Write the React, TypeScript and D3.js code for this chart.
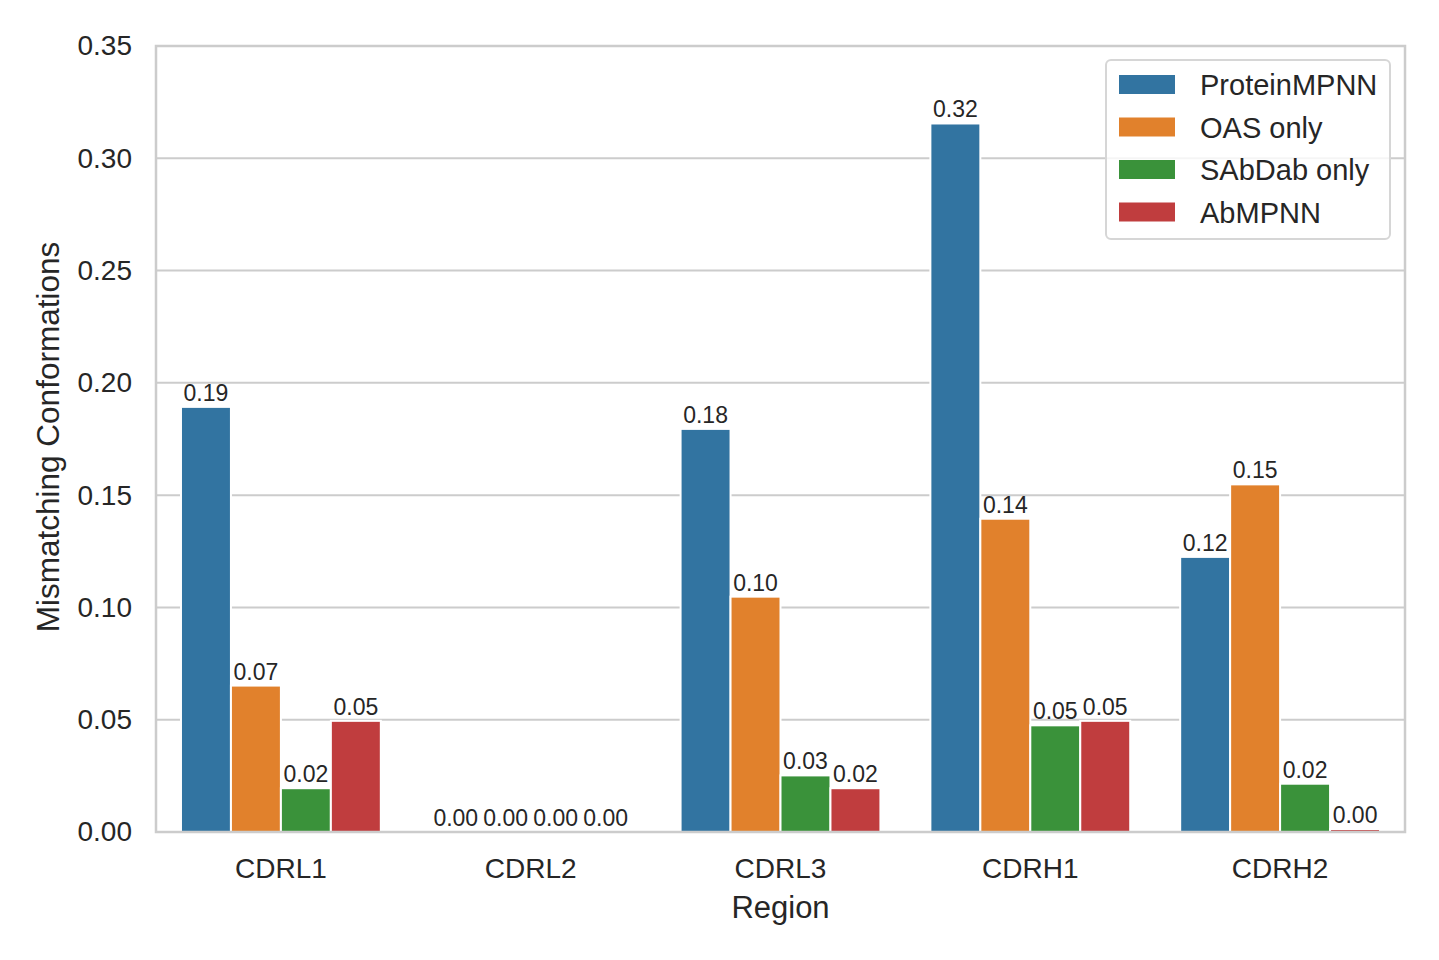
import { useEffect, useRef } from "react";
import * as d3 from "d3";

const regions = ["CDRL1", "CDRL2", "CDRL3", "CDRH1", "CDRH2"];
const models = ["ProteinMPNN", "OAS only", "SAbDab only", "AbMPNN"];
const colors = ["#3274a1", "#e1812c", "#3a923a", "#c03d3e"];

// one array per model, in region order
const proteinMpnn = [0.1893, 0, 0.1795, 0.3155, 0.1225];
const oasOnly = [0.0652, 0, 0.1048, 0.1395, 0.1548];
const sabdabOnly = [0.0195, 0, 0.0252, 0.0475, 0.0215];
const abMpnn = [0.0495, 0, 0.0195, 0.0495, 0.0013];
const series = [proteinMpnn, oasOnly, sabdabOnly, abMpnn];

const yTicks = [0, 0.05, 0.1, 0.15, 0.2, 0.25, 0.3, 0.35];

export default function App() {
    const svgRef = useRef<SVGSVGElement | null>(null);

    useEffect(() => {
        if (!svgRef.current) return;
        d3.select(svgRef.current).selectAll("*").remove();

        const width = 1439;
        const height = 960;
        const margin = { top: 46, right: 34, bottom: 128, left: 156 };
        const innerWidth = width - margin.left - margin.right;
        const innerHeight = height - margin.top - margin.bottom;
        const font = "'Liberation Sans', Arial, sans-serif";
        const ink = "#262626";

        const svg = d3
            .select(svgRef.current)
            .attr("width", width)
            .attr("height", height)
            .style("font-family", font);

        const g = svg
            .append("g")
            .attr("transform", `translate(${margin.left},${margin.top})`);

        const x = d3.scaleBand().domain(regions).range([0, innerWidth]).paddingInner(0).paddingOuter(0);
        const xHue = d3
            .scaleBand()
            .domain(models)
            .range([x.bandwidth() * 0.1, x.bandwidth() * 0.9]);
        const y = d3.scaleLinear().domain([0, 0.35]).range([innerHeight, 0]);

        // grid
        g.selectAll(".grid")
            .data(yTicks)
            .enter()
            .append("line")
            .attr("x1", 0)
            .attr("x2", innerWidth)
            .attr("y1", (d) => y(d))
            .attr("y2", (d) => y(d))
            .attr("stroke", "#cccccc")
            .attr("stroke-width", 2);

        // y tick labels
        const yAxis = g
            .append("g")
            .call(d3.axisLeft(y).tickValues(yTicks).tickSize(0).tickPadding(24).tickFormat(d3.format(".2f")));
        yAxis.select(".domain").remove();
        yAxis.selectAll("text").attr("font-size", "28px").attr("fill", ink).style("font-family", font);

        // x tick labels
        const xAxis = g
            .append("g")
            .attr("transform", `translate(0,${innerHeight})`)
            .call(d3.axisBottom(x).tickSize(0).tickPadding(26));
        xAxis.select(".domain").remove();
        xAxis.selectAll("text").attr("font-size", "28px").attr("fill", ink).style("font-family", font);

        // bars
        const bars = series.flatMap((vals, si) =>
            vals.map((v, ri) => ({ region: regions[ri], model: models[si], color: colors[si], value: v }))
        );

        g.selectAll(".bar")
            .data(bars)
            .enter()
            .append("rect")
            .attr("x", (d) => (x(d.region) || 0) + (xHue(d.model) || 0))
            .attr("y", (d) => y(d.value))
            .attr("width", xHue.bandwidth())
            .attr("height", (d) => y(0) - y(d.value))
            .attr("fill", (d) => d.color)
            .attr("stroke", "#ffffff")
            .attr("stroke-width", 2);

        g.selectAll(".bar-label")
            .data(bars)
            .enter()
            .append("text")
            .attr("x", (d) => (x(d.region) || 0) + (xHue(d.model) || 0) + xHue.bandwidth() / 2)
            .attr("y", (d) => y(d.value) - 6)
            .attr("text-anchor", "middle")
            .attr("font-size", "23px")
            .attr("fill", ink)
            .text((d) => d.value.toFixed(2));

        // frame
        g.append("rect")
            .attr("width", innerWidth)
            .attr("height", innerHeight)
            .attr("fill", "none")
            .attr("stroke", "#cccccc")
            .attr("stroke-width", 2.5);

        // axis titles
        svg.append("text")
            .attr("x", margin.left + innerWidth / 2)
            .attr("y", 918)
            .attr("text-anchor", "middle")
            .attr("font-size", "31px")
            .attr("fill", ink)
            .text("Region");

        svg.append("text")
            .attr("transform", `translate(59,${margin.top + innerHeight / 2 - 2}) rotate(-90)`)
            .attr("text-anchor", "middle")
            .attr("font-size", "31.5px")
            .attr("fill", ink)
            .text("Mismatching Conformations");

        // legend
        const legend = svg.append("g").attr("transform", "translate(1106,60)");
        legend
            .append("rect")
            .attr("width", 284)
            .attr("height", 179)
            .attr("rx", 5)
            .attr("fill", "#ffffff")
            .attr("fill-opacity", 0.8)
            .attr("stroke", "#d6d6d6")
            .attr("stroke-width", 2);

        const items = legend
            .selectAll(".item")
            .data(models)
            .enter()
            .append("g")
            .attr("transform", (_d, i) => `translate(0,${24 + i * 42.5})`);
        items
            .append("rect")
            .attr("x", 13)
            .attr("y", -9)
            .attr("width", 56)
            .attr("height", 19)
            .attr("fill", (_d, i) => colors[i]);
        items
            .append("text")
            .attr("x", 94)
            .attr("y", 11)
            .attr("font-size", "29px")
            .attr("fill", ink)
            .text((d) => d);
    }, []);

    return <svg ref={svgRef} style={{ display: "block", margin: -8 }} />;
}
